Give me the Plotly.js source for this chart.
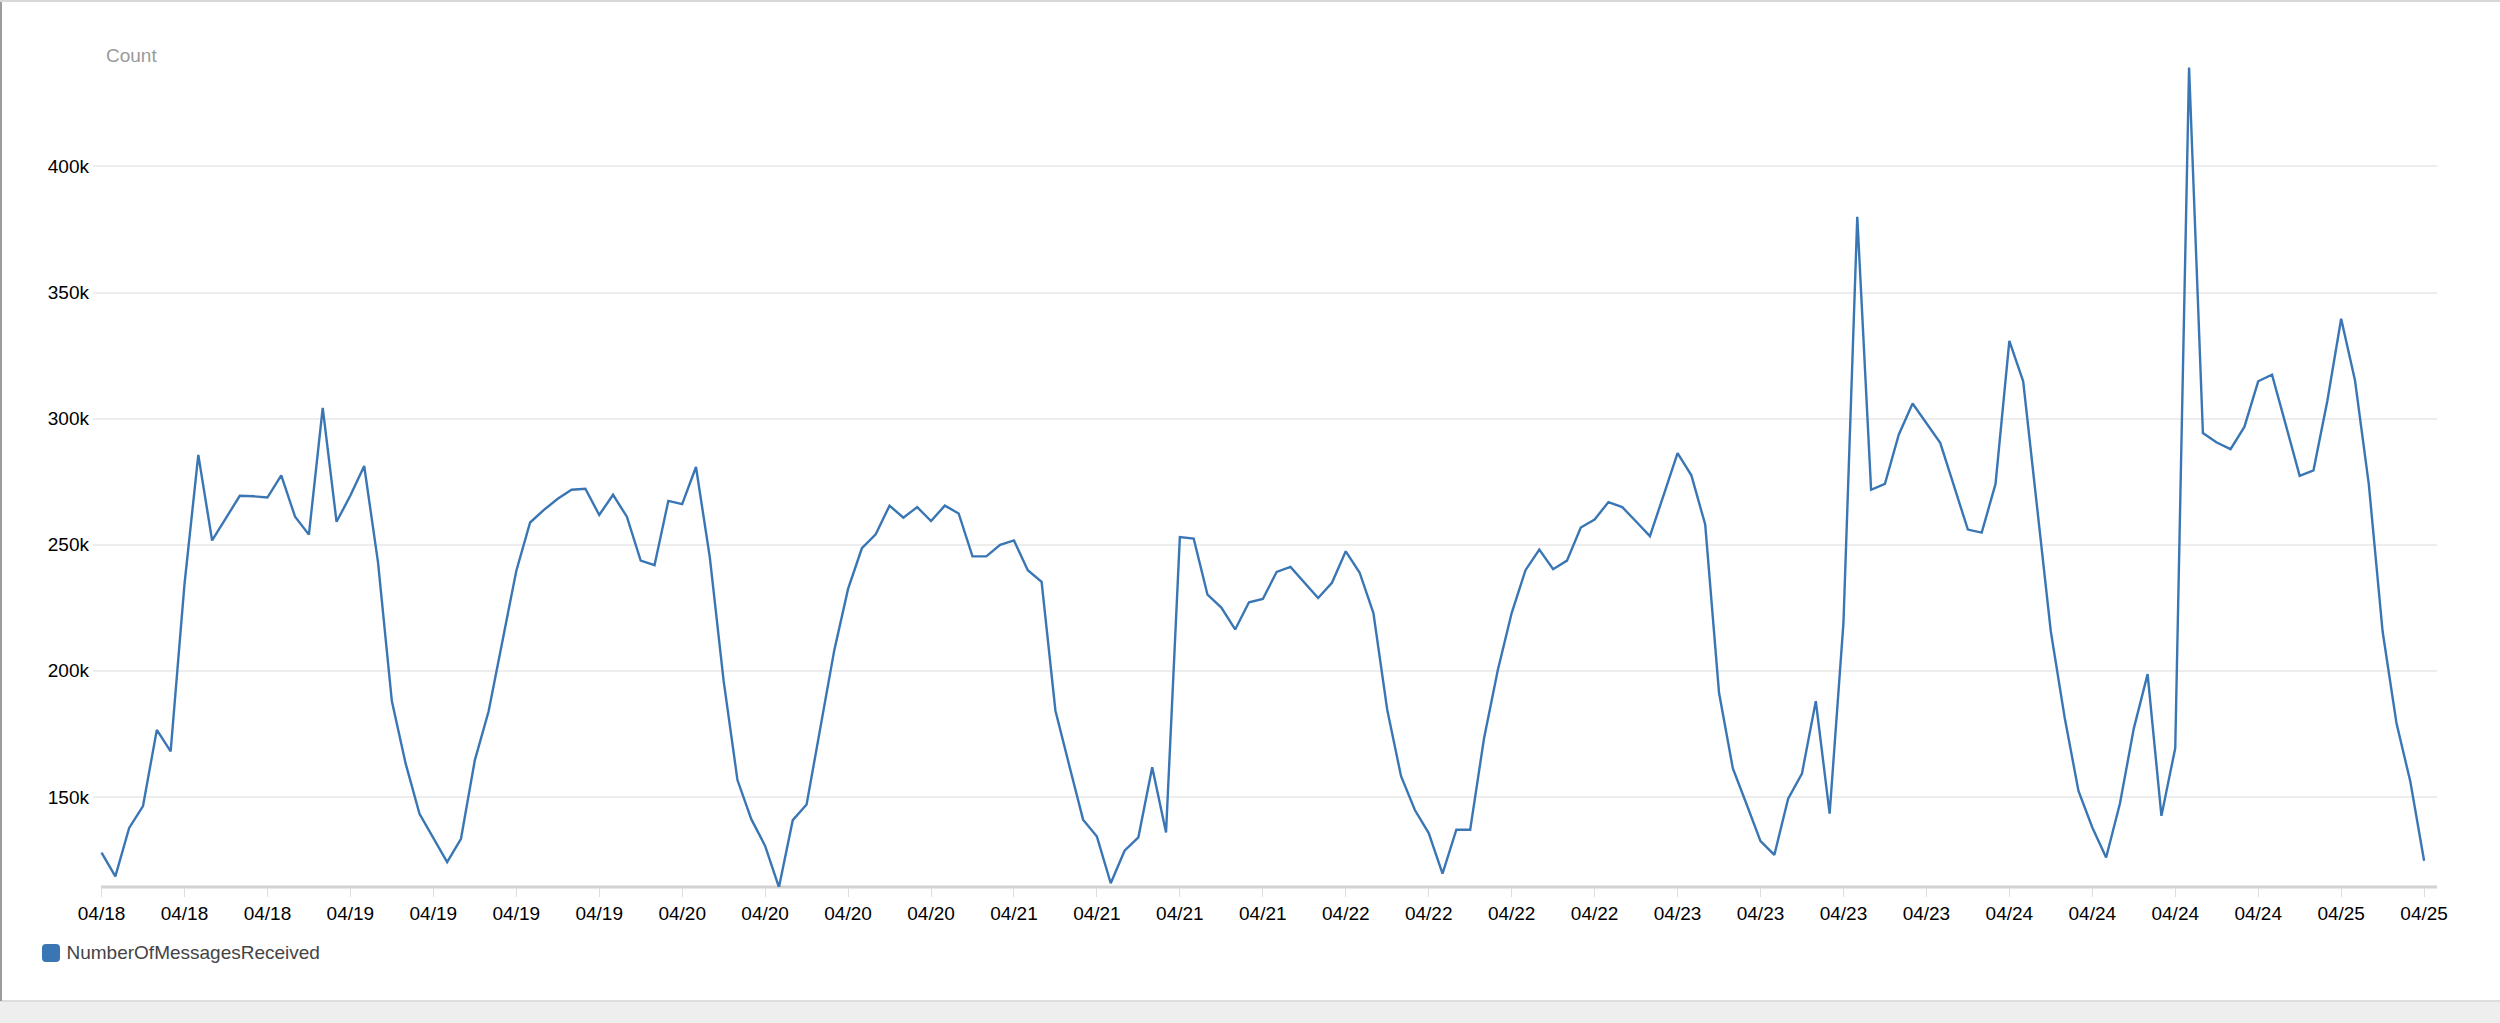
<!DOCTYPE html>
<html>
<head>
<meta charset="utf-8">
<script src="https://cdn.plot.ly/plotly-3.0.1.min.js"></script>
<style>
html,body{margin:0;padding:0;background:#ffffff;}
#chart{width:2500px;height:1023px;}
</style>
</head>
<body>
<div id="chart"></div>
<script>
// ---- data ----
const seriesName = 'NumberOfMessagesReceived';
const yAxisLabel = 'Count';
const startTime = '2018-04-18T06:00:00Z'; // first hourly sample (x label 04/18)
const messagesReceived = [
  127900,118500,137700,146400,176600,168100,234300,285600,251700,260500,
  269400,269200,268700,277500,261100,254000,304300,259100,269500,281200,
  243000,188000,163200,143300,133500,124200,133400,164500,184000,212000,
  239600,258800,263800,268200,271800,272200,261800,269800,261100,243700,
  241900,267400,266100,280800,245000,196000,156700,141200,130600,114200,
  140800,147000,177500,208100,232500,248600,254100,265500,260700,264900,
  259400,265500,262400,245400,245400,250000,251700,239900,235300,184200,
  162500,141000,134300,115800,128700,134000,161800,135900,253000,252400,
  230200,225100,216400,227200,228500,239200,241200,235100,228900,234900,
  247400,239000,222900,184600,158200,144800,135700,119600,137000,137000,
  173200,200300,222900,239900,248100,240300,243700,256800,260000,266900,
  264900,259200,253400,269800,286300,277500,258000,191300,161300,147000,
  132500,127000,149300,159300,188000,143400,219000,380000,271800,274100,
  293600,306000,298200,290400,273200,256000,254800,274100,330800,314800,
  265200,215600,181500,152400,137900,126000,147400,177100,198700,142500,
  169400,439200,294300,290500,287900,296700,314800,317400,297400,277300,
  279500,307000,339600,315200,274000,215600,179300,156200,124700
];
const yTickValues = [150000, 200000, 250000, 300000, 350000, 400000];
const yTickLabels = ['150k', '200k', '250k', '300k', '350k', '400k'];

// hourly timestamps for the samples
const t0 = Date.parse(startTime);
const timestamps = messagesReceived.map((_, i) =>
  new Date(t0 + i * 3600000).toISOString().slice(0, 19).replace('T', ' '));

// ---- layout geometry (pixels) ----
const W = 2500, H = 1023;
const L = 93, R = 2437, T = 66, B = 887;
const px2x = px => (px - L) / (R - L);
const py2y = py => (B - py) / (B - T);
const lineColor = '#3a76b4';
const fontFamily = '"Liberation Sans", Arial, Helvetica, sans-serif';

// rounded square (legend key) as a paper-space path
function roundedSquare(x0, y0, x1, y1, r) {
  const X = px2x, Y = py2y;
  return 'M ' + X(x0 + r) + ',' + Y(y0) +
    ' L ' + X(x1 - r) + ',' + Y(y0) +
    ' Q ' + X(x1) + ',' + Y(y0) + ' ' + X(x1) + ',' + Y(y0 + r) +
    ' L ' + X(x1) + ',' + Y(y1 - r) +
    ' Q ' + X(x1) + ',' + Y(y1) + ' ' + X(x1 - r) + ',' + Y(y1) +
    ' L ' + X(x0 + r) + ',' + Y(y1) +
    ' Q ' + X(x0) + ',' + Y(y1) + ' ' + X(x0) + ',' + Y(y1 - r) +
    ' L ' + X(x0) + ',' + Y(y0 + r) +
    ' Q ' + X(x0) + ',' + Y(y0) + ' ' + X(x0 + r) + ',' + Y(y0) + ' Z';
}

const traces = [
  {
    type: 'scatter', mode: 'lines',
    x: timestamps, y: messagesReceived,
    name: seriesName, showlegend: false,
    line: {color: lineColor, width: 2.4},
    hoverinfo: 'x+y'
  },
  {
    // legend entry (key drawn as a rounded square shape)
    type: 'scatter', mode: 'markers',
    x: [null], y: [null],
    name: seriesName, showlegend: true,
    marker: {symbol: 'square', size: 16, color: 'rgba(0,0,0,0)'}
  }
];

const layout = {
  width: W, height: H,
  margin: {l: L, r: W - R, t: T, b: H - B, pad: 0},
  paper_bgcolor: '#ffffff', plot_bgcolor: '#ffffff',
  font: {family: fontFamily, size: 19, color: '#000000'},
  showlegend: true,
  legend: {
    orientation: 'h',
    x: px2x(26.5), xanchor: 'left',
    y: py2y(952), yanchor: 'middle',
    font: {family: fontFamily, size: 19, color: '#444444'},
    bgcolor: 'rgba(0,0,0,0)', borderwidth: 0
  },
  xaxis: {
    type: 'date',
    range: ['2018-04-18 05:23:00', '2018-04-25 06:56:00'],
    tick0: '2018-04-18 06:00:00',
    dtick: 21600000,
    tickformat: '%m/%d',
    ticks: 'outside', ticklen: 9, tickwidth: 1, tickcolor: '#dedede',
    showline: false,
    showgrid: false, zeroline: false,
    tickfont: {family: fontFamily, size: 19, color: '#000000'},
    ticklabelstandoff: 0,
    fixedrange: true
  },
  yaxis: {
    range: [114300, 439800],
    tickmode: 'array', tickvals: yTickValues, ticktext: yTickLabels,
    showgrid: true, gridcolor: '#ededed', gridwidth: 2,
    zeroline: false, showline: false, ticks: '',
    tickfont: {family: fontFamily, size: 19, color: '#000000'},
    ticklabelstandoff: 3,
    fixedrange: true
  },
  annotations: [
    {
      text: yAxisLabel, showarrow: false,
      xref: 'paper', yref: 'paper',
      x: px2x(104), xanchor: 'left',
      y: py2y(56), yanchor: 'middle',
      font: {family: fontFamily, size: 19, color: '#9a9a9a'}
    }
  ],
  shapes: [
    // x axis baseline: from the first sample to the right edge of the plot
    {type: 'line', xref: 'paper', yref: 'paper', layer: 'below',
     x0: px2x(101), x1: 1, y0: 0, y1: 0,
     line: {color: '#d2d2d2', width: 3}},
    // legend key
    {type: 'path', xref: 'paper', yref: 'paper',
     path: roundedSquare(42, 944, 60, 962, 4),
     fillcolor: lineColor, line: {width: 0}},
    // bottom grey band
    {type: 'rect', xref: 'paper', yref: 'paper', layer: 'below',
     x0: px2x(-5), x1: px2x(W + 5), y0: py2y(1001), y1: py2y(H + 5),
     fillcolor: '#eeeeee', line: {width: 0}},
    {type: 'line', xref: 'paper', yref: 'paper',
     x0: px2x(0), x1: px2x(W), y0: py2y(1001), y1: py2y(1001),
     line: {color: '#dddddd', width: 2}},
    // left border
    {type: 'line', xref: 'paper', yref: 'paper',
     x0: px2x(1), x1: px2x(1), y0: py2y(0), y1: py2y(1001),
     line: {color: '#9c9c9c', width: 2}},
    // top border
    {type: 'line', xref: 'paper', yref: 'paper',
     x0: px2x(0), x1: px2x(W), y0: py2y(1), y1: py2y(1),
     line: {color: '#d8d8d8', width: 2}}
  ]
};

Plotly.newPlot('chart', traces, layout, {displayModeBar: false, staticPlot: true});
</script>
</body>
</html>
